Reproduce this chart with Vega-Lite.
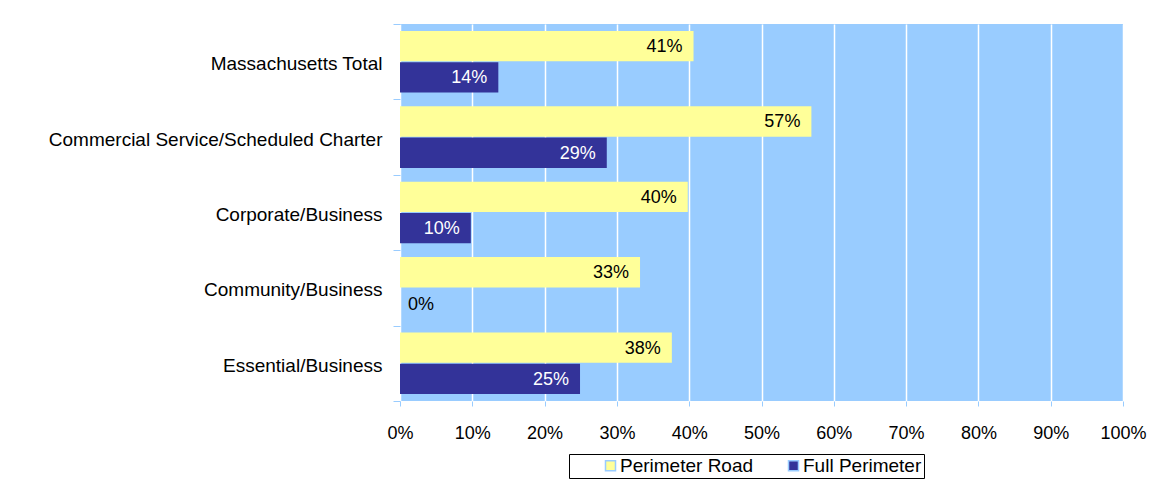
{
  "$schema": "https://vega.github.io/schema/vega-lite/v6.json",
  "width": 723,
  "height": 377,
  "autosize": "none",
  "padding": {"left": 400, "top": 24, "right": 28, "bottom": 79},
  "background": "white",
  "config": {
    "font": "Liberation Sans",
    "view": {"fill": "#99CCFF", "stroke": null}
  },
  "data": {
    "values": [
      {"category": "Massachusetts Total", "series": "Perimeter Road", "value": 0.406},
      {"category": "Massachusetts Total", "series": "Full Perimeter", "value": 0.136},
      {"category": "Commercial Service/Scheduled Charter", "series": "Perimeter Road", "value": 0.569},
      {"category": "Commercial Service/Scheduled Charter", "series": "Full Perimeter", "value": 0.286},
      {"category": "Corporate/Business", "series": "Perimeter Road", "value": 0.398},
      {"category": "Corporate/Business", "series": "Full Perimeter", "value": 0.098},
      {"category": "Community/Business", "series": "Perimeter Road", "value": 0.332},
      {"category": "Community/Business", "series": "Full Perimeter", "value": 0},
      {"category": "Essential/Business", "series": "Perimeter Road", "value": 0.376},
      {"category": "Essential/Business", "series": "Full Perimeter", "value": 0.249}
    ]
  },
  "encoding": {
    "y": {
      "field": "category",
      "type": "nominal",
      "sort": ["Massachusetts Total", "Commercial Service/Scheduled Charter", "Corporate/Business", "Community/Business", "Essential/Business"],
      "scale": {"paddingInner": 0, "paddingOuter": 0},
      "axis": {
        "title": null,
        "domain": false,
        "tickBand": "extent",
        "tickColor": "#99CCFF",
        "tickSize": 7,
        "labelPadding": 11,
        "labelOffset": 2,
        "labelFontSize": 19,
        "labelColor": "black",
        "labelLimit": 400
      }
    },
    "yOffset": {
      "field": "series",
      "type": "nominal",
      "sort": ["Perimeter Road", "Full Perimeter"],
      "scale": {"paddingInner": 0.03, "paddingOuter": 0.22}
    },
    "x": {
      "field": "value",
      "type": "quantitative",
      "stack": null,
      "scale": {"domain": [0, 1], "nice": false},
      "axis": {
        "title": null,
        "values": [0, 0.1, 0.2, 0.3, 0.4, 0.5, 0.6, 0.7, 0.8, 0.9, 1],
        "format": ".0%",
        "domain": false,
        "grid": true,
        "gridColor": "white",
        "gridWidth": 1.5,
        "tickColor": "#99CCFF",
        "tickSize": 5,
        "labelPadding": 18,
        "labelFlush": false,
        "labelFontSize": 18,
        "labelColor": "black"
      }
    }
  },
  "layer": [
    {
      "mark": {"type": "bar", "strokeWidth": 1},
      "encoding": {
        "color": {
          "field": "series",
          "type": "nominal",
          "scale": {"domain": ["Perimeter Road", "Full Perimeter"], "range": ["#FFFF99", "#333399"]},
          "legend": {
            "title": null,
            "orient": "none",
            "legendX": 169,
            "legendY": 430,
            "direction": "horizontal",
            "strokeColor": "black",
            "padding": 2,
            "symbolOffset": 30,
            "symbolType": "square",
            "symbolSize": 100,
            "symbolStrokeColor": "#99CCFF",
            "symbolStrokeWidth": 1.5,
            "labelFontSize": 19,
            "labelColor": "black",
            "labelOffset": 0,
            "columnPadding": 0,
            "labelExpr": "datum.value == 'Full Perimeter' ? datum.label + '\u00a0\u00a0\u00a0\u00a0\u00a0' : datum.label"
          }
        }
      }
    },
    {
      "transform": [{"filter": "datum.value > 0"}],
      "mark": {"type": "text", "align": "right", "baseline": "middle", "dx": -11, "dy": 1, "fontSize": 18},
      "encoding": {
        "text": {"field": "value", "type": "quantitative", "format": ".0%"},
        "color": {"condition": {"test": "datum.series === 'Full Perimeter'", "value": "white"}, "value": "black"}
      }
    },
    {
      "transform": [{"filter": "datum.value == 0"}],
      "mark": {"type": "text", "align": "left", "baseline": "middle", "dx": 8, "dy": 1, "fontSize": 18, "color": "black"},
      "encoding": {
        "text": {"field": "value", "type": "quantitative", "format": ".0%"}
      }
    }
  ]
}
